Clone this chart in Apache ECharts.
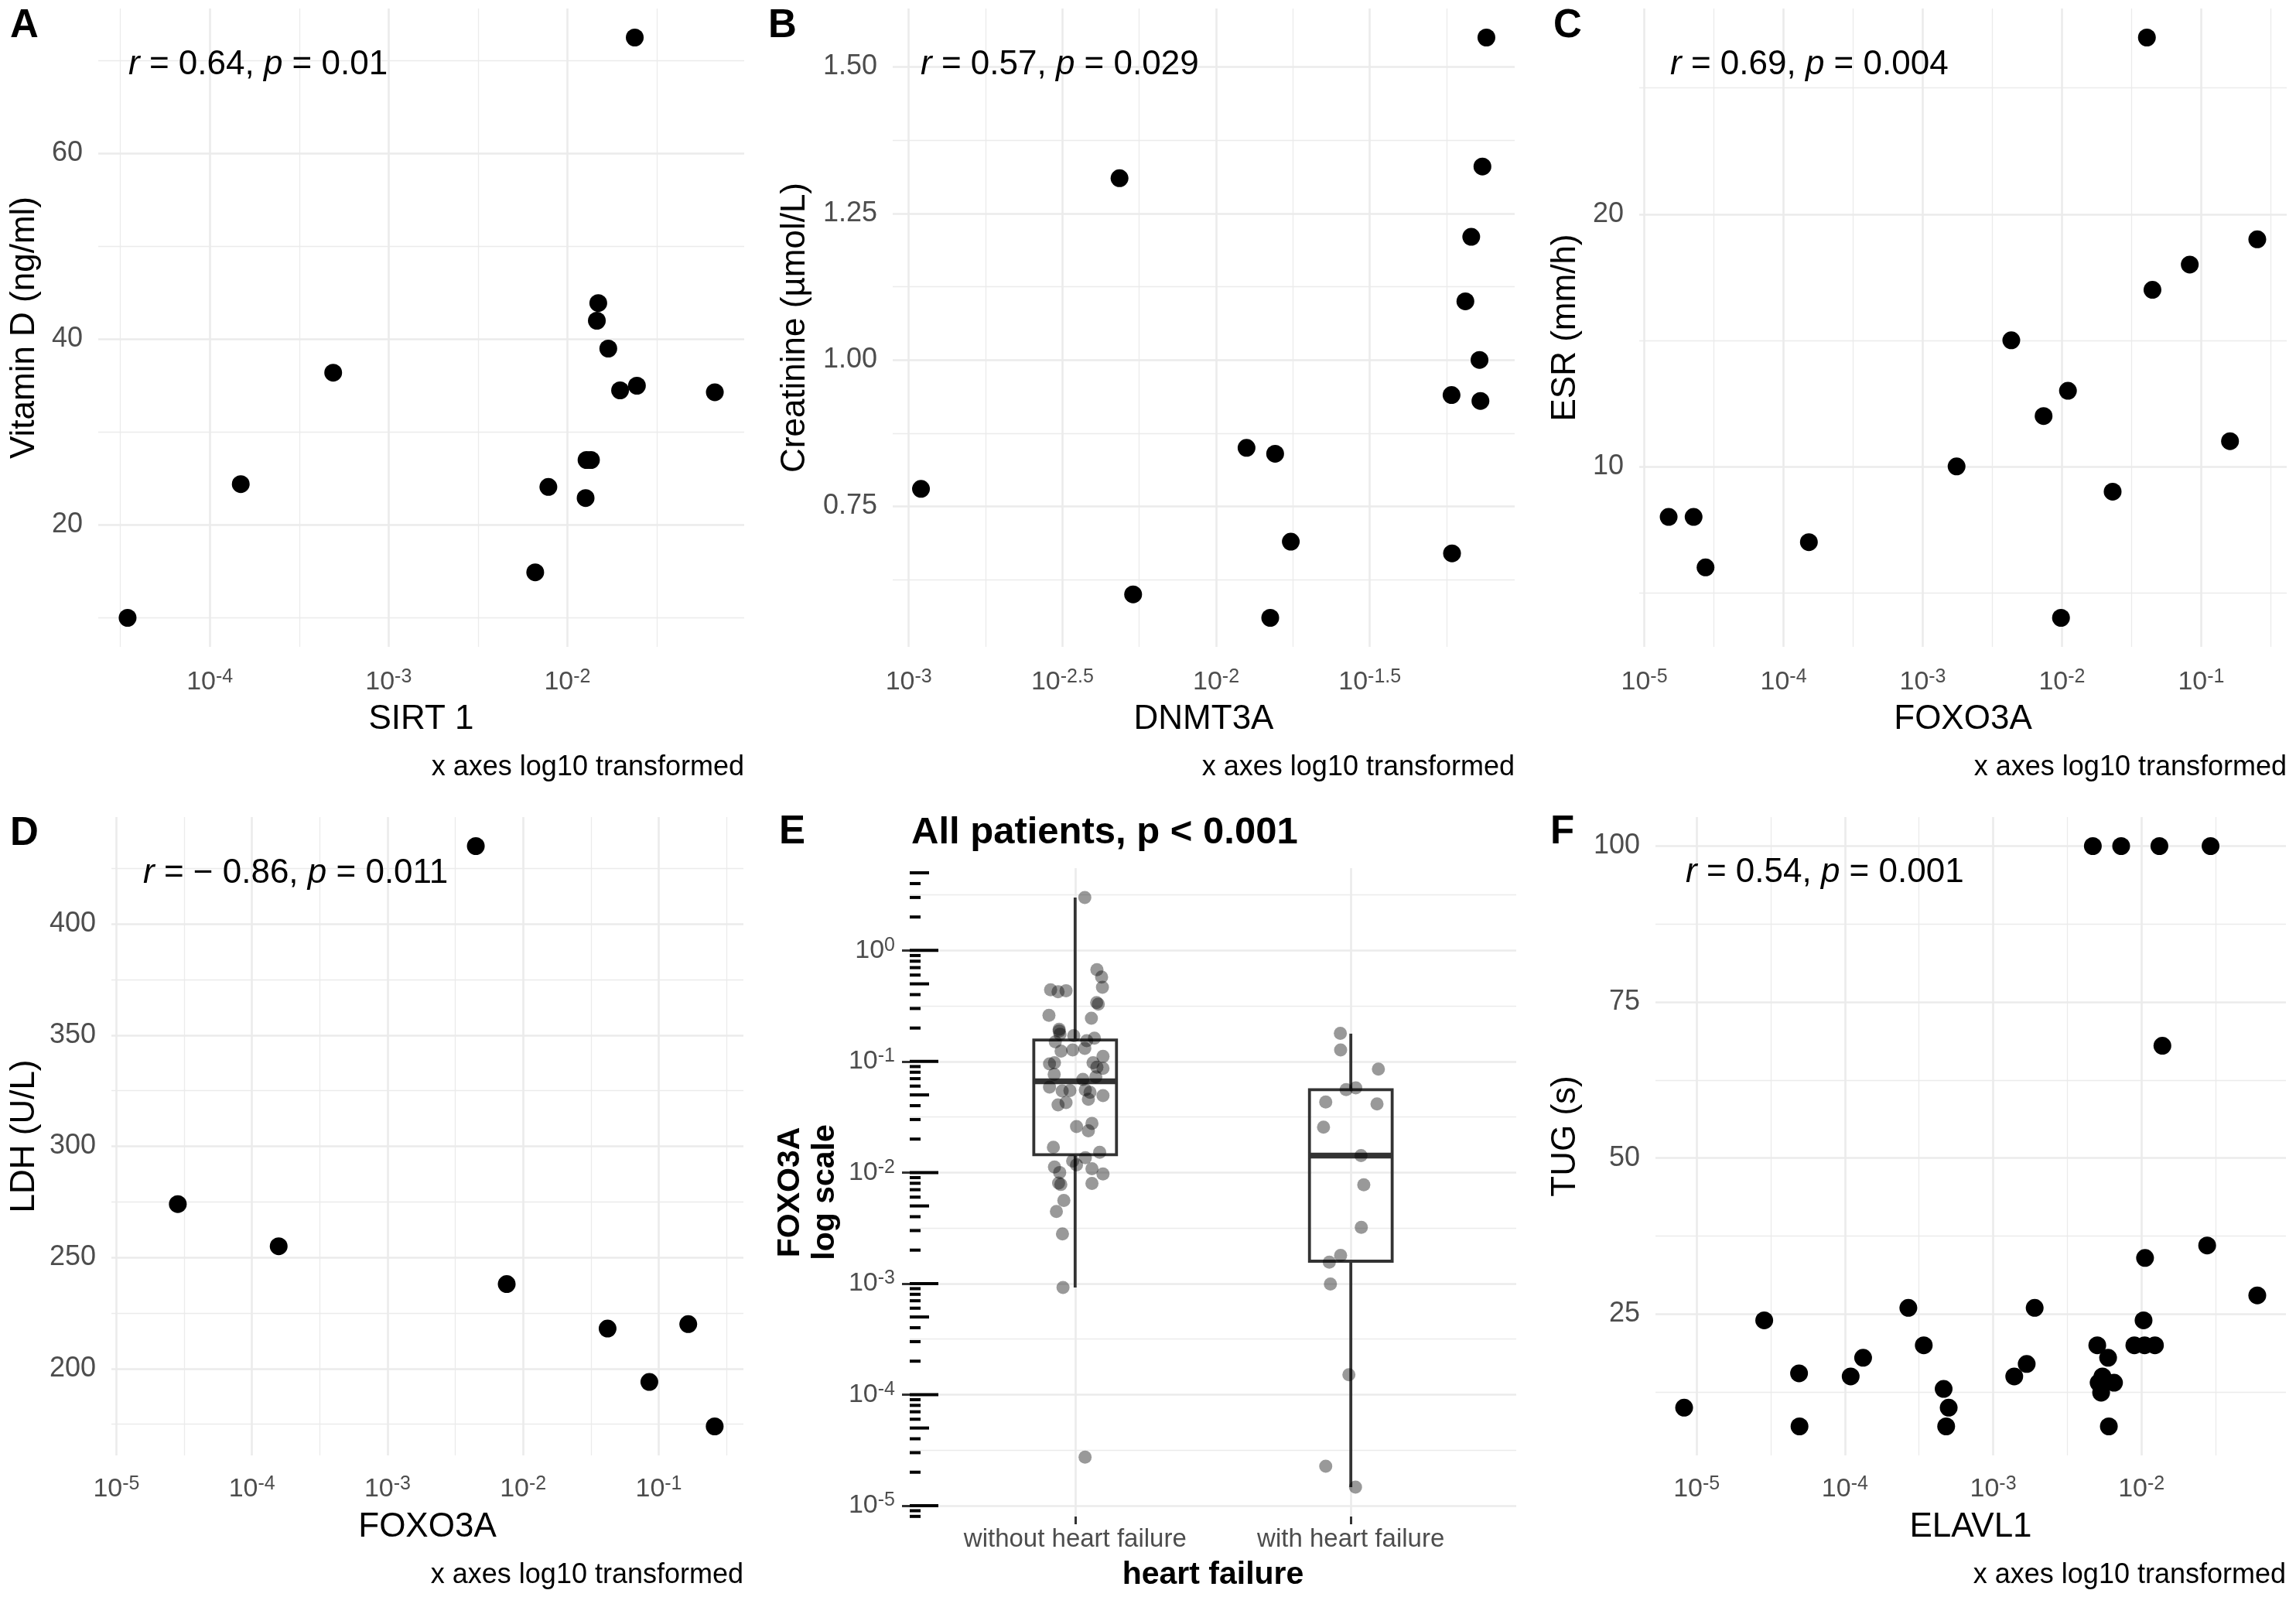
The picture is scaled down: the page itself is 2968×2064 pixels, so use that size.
<!DOCTYPE html>
<html>
<head>
<meta charset="utf-8">
<script src="https://cdn.jsdelivr.net/npm/echarts@6/dist/echarts.min.js"></script>
<style>html,body{margin:0;padding:0;background:#fff}#c{width:2968px;height:2064px}</style>
</head>
<body>
<div id="c"></div>
<script>
// ---------------- DATA ----------------
// Panel A: SIRT 1 vs Vitamin D
const sirt1 = [3.47e-5, 1.49e-4, 4.90e-4, 6.61e-3, 7.83e-3, 0.01265, 0.0128, 0.01355, 0.01489, 0.01462, 0.01694, 0.01972, 0.02449, 0.0668, 0.02382];
const vitaminD = [10.0, 24.4, 36.4, 14.9, 24.1, 22.9, 27.0, 27.0, 43.9, 42.0, 39.0, 34.5, 35.0, 34.3, 72.5];
// Panel B: DNMT3A vs Creatinine
const dnmt3a = [1.096e-3, 4.85e-3, 5.37e-3, 0.01256, 0.01556, 0.0175, 0.0150, 0.05855, 0.05834, 0.07244, 0.07194, 0.06471, 0.06761, 0.07352, 0.07575];
const creatinine = [0.78, 1.31, 0.60, 0.85, 0.84, 0.69, 0.56, 0.67, 0.94, 0.93, 1.00, 1.10, 1.21, 1.33, 1.55];
// Panel C: FOXO3A vs ESR
const foxo3aESR = [1.496e-5, 2.26e-5, 2.754e-5, 1.521e-4, 1.75e-3, 4.325e-3, 7.38e-3, 0.01104, 9.84e-3, 0.02312, 0.04074, 0.04467, 0.08279, 0.1611, 0.2529];
const esr = [8, 8, 6, 7, 10, 15, 12, 13, 4, 9, 27, 17, 18, 11, 19];
// Panel D: FOXO3A vs LDH
const foxo3aLDH = [2.838e-5, 1.574e-4, 4.477e-3, 7.568e-3, 0.04198, 0.1652, 0.08531, 0.2588];
const ldh = [274, 255, 435, 238, 218, 220, 194, 174];
// Panel F: ELAVL1 vs TUG
const elavl1 = [8.24e-6, 2.858e-5, 4.909e-5, 4.943e-5, 1.094e-4, 1.327e-4, 2.679e-4, 3.404e-4, 4.634e-4, 5.012e-4, 4.819e-4, 1.387e-3, 1.683e-3, 1.905e-3, 4.70e-3, 7.295e-3, 0.01321, 0.02924, 0.01384, 5.035e-3, 5.957e-3, 5.458e-3, 5.140e-3, 5.675e-3, 6.531e-3, 5.346e-3, 6.026e-3, 8.954e-3, 0.0105, 0.01233, 0.01033, 0.01057, 0.02773, 0.0604];
const tug = [10, 24, 15.5, 7, 15, 18, 26, 20, 13, 10, 7, 15, 17, 26, 100, 100, 100, 100, 68, 20, 18, 15, 14, 14.3, 14, 12.4, 7, 20, 20, 20, 24, 34, 36, 28];
// Panel E: FOXO3A by heart failure group (values + horizontal jitter in category units)
const hfGroups = ['without heart failure', 'with heart failure'];
const foxo3aNoHF = [2.99, 0.670, 0.575, 0.466, 0.442, 0.425, 0.434, 0.339, 0.328, 0.260,
  0.245, 0.195, 0.188, 0.176, 0.150, 0.124, 0.127, 0.171, 0.131, 0.154,
  0.162, 0.0951, 0.0975, 0.0767, 0.111, 0.0975, 0.0887, 0.0867, 0.0726, 0.0689,
  0.0587, 0.0542, 0.0547, 0.0556, 0.0527, 0.0456, 0.0492, 0.0426, 0.0407, 0.0259,
  0.0277, 0.0237, 0.0169, 0.0152, 0.0127, 0.0117, 0.0136, 0.0112, 0.0100, 0.0108,
  0.0097, 0.00805, 0.0078, 0.00798, 0.00445, 0.0056, 0.0028, 0.00092, 2.73e-5];
const jitterNoHF = [0.035, 0.079, 0.096, 0.099, -0.089, -0.062, -0.033, 0.078, 0.084, -0.095,
  0.059, -0.058, -0.058, -0.055, -0.072, -0.051, -0.009, -0.005, 0.035, 0.042,
  0.070, -0.093, -0.075, -0.076, 0.101, 0.065, 0.079, 0.101, 0.075, 0.028,
  -0.093, -0.047, -0.019, 0.037, 0.054, 0.048, 0.101, -0.033, -0.062, 0.005,
  0.061, 0.048, -0.079, 0.089, -0.009, 0.005, 0.037, -0.075, -0.056, 0.061,
  0.101, -0.060, -0.052, 0.061, -0.068, -0.041, -0.046, -0.044, 0.036];
const foxo3aHF = [0.179, 0.127, 0.0853, 0.0557, 0.0578, 0.0431, 0.0414, 0.0256, 0.0142, 0.00775, 0.00321, 0.00179, 0.00156, 0.00099, 1.51e-4, 2.26e-5, 1.47e-5];
const jitterHF = [-0.038, -0.037, 0.100, -0.017, 0.018, -0.091, 0.095, -0.099, 0.037, 0.047, 0.038, -0.037, -0.078, -0.074, -0.007, -0.091, 0.017];
// box statistics: [lower whisker, Q1, median, Q3, upper whisker]
const boxNoHF = [0.00092, 0.01445, 0.0664, 0.156, 2.99];
const boxHF = [1.47e-5, 0.00159, 0.0142, 0.0557, 0.178];

// tick values (log10 exponents for log-scaled axes)
const ticksA = { xMajor: [-4, -3, -2], xMinor: [-4.5, -3.5, -2.5, -1.5], yMajor: [20, 40, 60], yMinor: [10, 30, 50, 70] };
const ticksB = { xMajor: [-3, -2.5, -2, -1.5], xMinor: [-2.75, -2.25, -1.75, -1.25], yMajor: [0.75, 1.00, 1.25, 1.50], yMinor: [0.625, 0.875, 1.125, 1.375] };
const ticksC = { xMajor: [-5, -4, -3, -2, -1], xMinor: [-4.5, -3.5, -2.5, -1.5, -0.5], yMajor: [10, 20], yMinor: [5, 15, 25] };
const ticksD = { xMajor: [-5, -4, -3, -2, -1], xMinor: [-4.5, -3.5, -2.5, -1.5, -0.5], yMajor: [200, 250, 300, 350, 400], yMinor: [175, 225, 275, 325, 375, 425] };
const ticksF = { xMajor: [-5, -4, -3, -2], xMinor: [-4.5, -3.5, -2.5, -1.5], yMajor: [25, 50, 75, 100], yMinor: [12.5, 37.5, 62.5, 87.5] };
const ticksE = { xMajor: [1, 2], yMajor: [-5, -4, -3, -2, -1, 0], yMinor: [-4.5, -3.5, -2.5, -1.5, -0.5, 0.5] };
const logtickMultipliers = [1, 2, 3, 4, 5, 6, 7, 8, 9];
const logtickExponents = [-6, -5, -4, -3, -2, -1, 0];

// ---------------- STYLE / LAYOUT ----------------
const FONT = '"Liberation Sans", Arial, Helvetica, sans-serif';
const GRID_COLOR = '#EBEBEB';
const TICK_COLOR = '#4D4D4D';
const lg = v => Math.log10(v);
function expandRange(vals) {
  const mn = Math.min(...vals), mx = Math.max(...vals), d = (mx - mn) * 0.05;
  return [mn - d, mx + d];
}
function expLabel(v) {
  const s = String(Math.round(v * 100) / 100);
  return '{b|10}{s|' + s + '}';
}
const supRich = {
  b: { fontSize: 34, fontFamily: FONT, color: TICK_COLOR, lineHeight: 38 },
  s: { fontSize: 25, fontFamily: FONT, color: TICK_COLOR, verticalAlign: 'top', lineHeight: 13 }
};

const grids = [], xAxes = [], yAxes = [], series = [], graphics = [];

function addGrid(rect) {
  grids.push({ left: rect[0], top: rect[1], width: rect[2], height: rect[3], containLabel: false, outerBoundsMode: 'none' });
  return grids.length - 1;
}
function majorLine() { return { show: true, lineStyle: { color: GRID_COLOR, width: 2.6 } }; }
function minorLine() { return { show: true, lineStyle: { color: GRID_COLOR, width: 1.3 } }; }
const noLine = { show: false, onZero: false };

function addScatterPanel(p) {
  const gi = addGrid(p.rect);
  const lx = p.x.map(lg);
  const xr = p.xRange || expandRange(lx);
  const yr = expandRange(p.y);
  const xi = xAxes.length;
  xAxes.push({ type: 'value', gridIndex: gi, position: 'bottom', min: xr[0], max: xr[1],
    axisLine: noLine, axisTick: { show: false, customValues: p.t.xMajor },
    axisLabel: { customValues: p.t.xMajor, formatter: expLabel, rich: supRich, margin: p.xMargin, verticalAlign: 'middle' },
    splitLine: majorLine() });
  xAxes.push({ type: 'value', gridIndex: gi, position: 'top', min: xr[0], max: xr[1],
    axisLine: noLine, axisTick: { show: false, customValues: p.t.xMinor },
    axisLabel: { show: false, customValues: p.t.xMinor }, splitLine: minorLine() });
  const yi = yAxes.length;
  yAxes.push({ type: 'value', gridIndex: gi, position: 'left', min: yr[0], max: yr[1],
    axisLine: noLine, axisTick: { show: false, customValues: p.t.yMajor },
    axisLabel: { customValues: p.t.yMajor, formatter: p.yFmt, margin: 20, color: TICK_COLOR, fontSize: 36, fontFamily: FONT },
    splitLine: majorLine() });
  yAxes.push({ type: 'value', gridIndex: gi, position: 'right', min: yr[0], max: yr[1],
    axisLine: noLine, axisTick: { show: false, customValues: p.t.yMinor },
    axisLabel: { show: false, customValues: p.t.yMinor }, splitLine: minorLine() });
  series.push({ type: 'scatter', xAxisIndex: xi, yAxisIndex: yi, silent: true,
    data: lx.map((v, k) => [v, p.y[k]]), symbolSize: 23, itemStyle: { color: '#000', opacity: 1 }, z: 5 });
}

const rA = [127, 11, 835, 825], rB = [1154, 11, 804, 825], rC = [2119, 11, 837, 825];
const rD = [144, 1056, 817, 825], rE = [1176, 1122, 784, 838], rF = [2140, 1056, 815, 825];

const fmtInt = v => String(v);
const fmt2 = v => v.toFixed(2);
addScatterPanel({ rect: rA, x: sirt1, y: vitaminD, t: ticksA, yFmt: fmtInt, xMargin: 46 });
addScatterPanel({ rect: rB, x: dnmt3a, y: creatinine, t: ticksB, yFmt: fmt2, xMargin: 46 });
addScatterPanel({ rect: rC, x: foxo3aESR, y: esr, t: ticksC, yFmt: fmtInt, xMargin: 46 });
// D shares the FOXO3A x scale range with the full FOXO3A sample of panel C
addScatterPanel({ rect: rD, x: foxo3aLDH, y: ldh, t: ticksD, yFmt: fmtInt, xMargin: 44,
  xRange: expandRange(foxo3aESR.concat(foxo3aLDH).map(lg)) });
addScatterPanel({ rect: rF, x: elavl1, y: tug, t: ticksF, yFmt: fmtInt, xMargin: 44 });

// ---------------- Panel E ----------------
(function () {
  const gi = addGrid(rE);
  const allLog = foxo3aNoHF.concat(foxo3aHF).map(lg);
  const yr = expandRange(allLog);
  const xr = [0.4, 2.6];
  const xi = xAxes.length;
  xAxes.push({ type: 'value', gridIndex: gi, position: 'bottom', min: xr[0], max: xr[1],
    axisLine: noLine,
    axisTick: { show: true, length: 10, customValues: ticksE.xMajor, lineStyle: { color: '#333333', width: 3 } },
    axisLabel: { customValues: ticksE.xMajor, formatter: v => hfGroups[Math.round(v) - 1], margin: 30, verticalAlign: 'middle',
      color: TICK_COLOR, fontSize: 33, fontFamily: FONT },
    splitLine: majorLine() });
  const yi = yAxes.length;
  yAxes.push({ type: 'value', gridIndex: gi, position: 'left', min: yr[0], max: yr[1],
    axisLine: noLine,
    axisTick: { show: true, length: 10, customValues: ticksE.yMajor, lineStyle: { color: '#333333', width: 3 } },
    axisLabel: { customValues: ticksE.yMajor, formatter: expLabel, rich: supRich, margin: 19 },
    splitLine: majorLine() });
  yAxes.push({ type: 'value', gridIndex: gi, position: 'right', min: yr[0], max: yr[1],
    axisLine: noLine, axisTick: { show: false, customValues: ticksE.yMinor },
    axisLabel: { show: false, customValues: ticksE.yMinor }, splitLine: minorLine() });

  // log ticks annotation at the left edge of the panel
  const lt = [];
  logtickExponents.forEach(e => logtickMultipliers.forEach(m => {
    const v = e + lg(m);
    if (v >= yr[0] && v <= yr[1]) lt.push([v, m]);
  }));
  series.push({ type: 'custom', xAxisIndex: xi, yAxisIndex: yi, silent: true, clip: false, z: 6,
    encode: { y: 0 }, data: lt,
    renderItem: (params, api) => {
      const v = api.value(0), m = api.value(1);
      const p = api.coord([xr[0], v]);
      const len = m === 1 ? 37 : (m === 5 ? 25 : 14);
      return { type: 'line', shape: { x1: p[0], y1: p[1], x2: p[0] + len, y2: p[1] }, style: { stroke: '#000', lineWidth: 4 } };
    } });

  // boxplots
  const boxData = [[1].concat(boxNoHF.map(lg)), [2].concat(boxHF.map(lg))];
  series.push({ type: 'custom', xAxisIndex: xi, yAxisIndex: yi, silent: true, z: 3,
    encode: { x: 0, y: [1, 2, 3, 4, 5] }, data: boxData,
    renderItem: (params, api) => {
      const x = api.value(0), hw = 0.15;
      const lw = api.coord([x, api.value(1)]), q1 = api.coord([x, api.value(2)]);
      const md = api.coord([x, api.value(3)]), q3 = api.coord([x, api.value(4)]);
      const uw = api.coord([x, api.value(5)]);
      const xl = api.coord([x - hw, api.value(3)])[0], xrr = api.coord([x + hw, api.value(3)])[0];
      const st = { stroke: '#333333', lineWidth: 3.8 };
      return { type: 'group', children: [
        { type: 'line', shape: { x1: md[0], y1: q3[1], x2: md[0], y2: uw[1] }, style: st },
        { type: 'line', shape: { x1: md[0], y1: q1[1], x2: md[0], y2: lw[1] }, style: st },
        { type: 'rect', shape: { x: xl, y: q3[1], width: xrr - xl, height: q1[1] - q3[1] }, style: { stroke: '#333333', lineWidth: 3.8, fill: 'rgba(0,0,0,0)' } },
        { type: 'line', shape: { x1: xl, y1: md[1], x2: xrr, y2: md[1] }, style: { stroke: '#333333', lineWidth: 7.5 } }
      ] };
    } });

  // jittered points
  const pts = foxo3aNoHF.map((v, k) => [1 + jitterNoHF[k], lg(v)])
    .concat(foxo3aHF.map((v, k) => [2 + jitterHF[k], lg(v)]));
  series.push({ type: 'scatter', xAxisIndex: xi, yAxisIndex: yi, silent: true, z: 5,
    data: pts, symbolSize: 17, itemStyle: { color: 'rgba(0,0,0,0.4)', opacity: 1 } });
})();

// ---------------- texts ----------------
function txt(text, x, y, o) {
  o = o || {};
  const st = { text: text, fill: o.color || '#000', fontSize: o.size || 44, fontFamily: FONT,
    fontWeight: o.weight || 'normal', fontStyle: 'normal',
    align: o.align || 'left', textAlign: o.align || 'left', verticalAlign: 'middle', textVerticalAlign: 'middle' };
  if (o.rich) st.rich = o.rich;
  if (o.lineHeight) st.lineHeight = o.lineHeight;
  graphics.push({ type: 'text', x: x, y: y, rotation: o.rot || 0, silent: true, z: 10, style: st });
}
const italicRich = { i: { fontStyle: 'italic', fontSize: 44, fontFamily: FONT, fill: '#000', color: '#000' } };
// panel tags
[['A', 13, 34], ['B', 993, 34], ['C', 2008, 34], ['D', 13, 1078], ['E', 1007, 1076], ['F', 2004, 1076]]
  .forEach(t => txt(t[0], t[1], t[2], { size: 51, weight: 'bold' }));
// correlation annotations
txt('{i|r} = 0.64, {i|p} = 0.01', 166, 84, { rich: italicRich });
txt('{i|r} = 0.57, {i|p} = 0.029', 1190, 84, { rich: italicRich });
txt('{i|r} = 0.69, {i|p} = 0.004', 2159, 84, { rich: italicRich });
txt('{i|r} = \u2212 0.86, {i|p} = 0.011', 185, 1129, { rich: italicRich });
txt('{i|r} = 0.54, {i|p} = 0.001', 2179, 1128, { rich: italicRich });
// y axis titles
const ROT = Math.PI / 2;
txt('Vitamin D (ng/ml)', 32, rA[1] + rA[3] / 2, { align: 'center', rot: ROT });
txt('Creatinine (\u00b5mol/L)', 1028, rB[1] + rB[3] / 2, { align: 'center', rot: ROT });
txt('ESR (mm/h)', 2024, rC[1] + rC[3] / 2, { align: 'center', rot: ROT });
txt('LDH (U/L)', 32, rD[1] + rD[3] / 2, { align: 'center', rot: ROT });
txt('TUG (s)', 2024, rF[1] + rF[3] / 2, { align: 'center', rot: ROT });
txt('FOXO3A\nlog scale', 1044, rE[1] + rE[3] / 2, { align: 'center', rot: ROT, size: 41, weight: 'bold', lineHeight: 45 });
// x axis titles
txt('SIRT 1', rA[0] + rA[2] / 2, 930, { align: 'center' });
txt('DNMT3A', rB[0] + rB[2] / 2, 930, { align: 'center' });
txt('FOXO3A', rC[0] + rC[2] / 2, 930, { align: 'center' });
txt('FOXO3A', rD[0] + rD[2] / 2, 1974, { align: 'center' });
txt('ELAVL1', rF[0] + rF[2] / 2, 1974, { align: 'center' });
txt('heart failure', rE[0] + rE[2] / 2, 2036, { align: 'center', size: 41, weight: 'bold' });
// captions
const CAP = 'x axes log10 transformed';
txt(CAP, rA[0] + rA[2], 992, { align: 'right', size: 36 });
txt(CAP, rB[0] + rB[2], 992, { align: 'right', size: 36 });
txt(CAP, rC[0] + rC[2], 992, { align: 'right', size: 36 });
txt(CAP, rD[0] + rD[2], 2036, { align: 'right', size: 36 });
txt(CAP, rF[0] + rF[2], 2036, { align: 'right', size: 36 });
// panel E title
txt('All patients, p < 0.001', 1178, 1076, { size: 49, weight: 'bold' });

const chart = echarts.init(document.getElementById('c'), null, { renderer: 'canvas' });
chart.setOption({
  backgroundColor: '#ffffff',
  animation: false,
  textStyle: { fontFamily: FONT },
  grid: grids, xAxis: xAxes, yAxis: yAxes, series: series, graphic: graphics
});
</script>
</body>
</html>
